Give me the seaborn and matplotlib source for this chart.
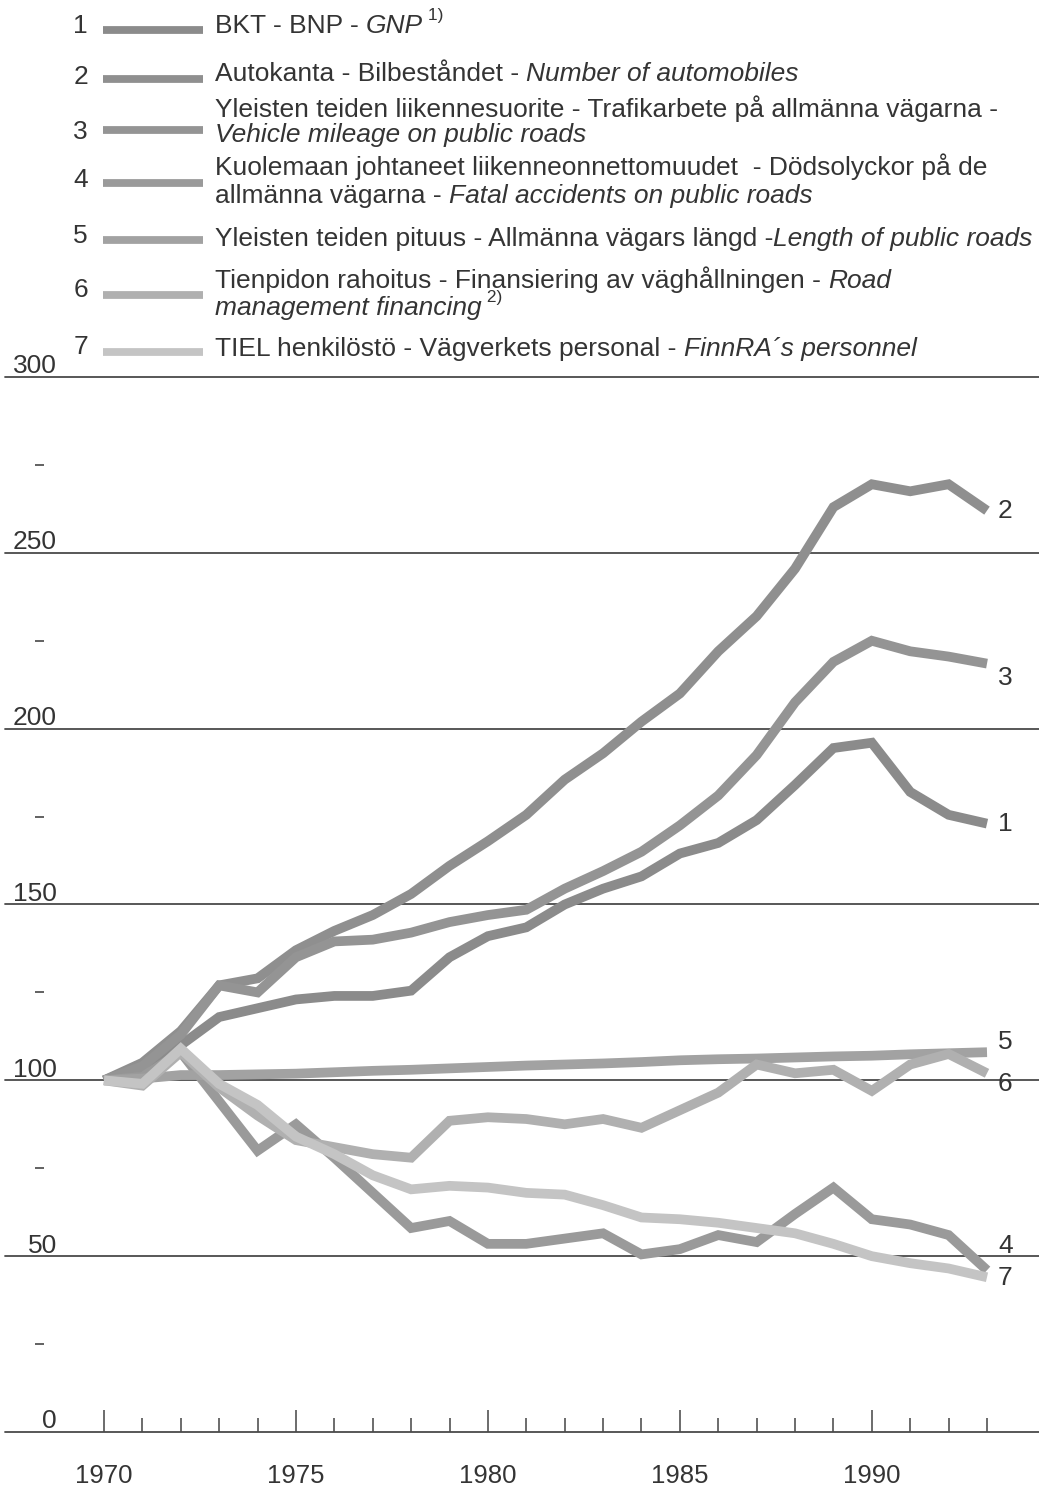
import matplotlib
matplotlib.use("Agg")
import matplotlib.pyplot as plt
from matplotlib.ticker import FixedLocator
import seaborn as sns
import pandas as pd

# ---------------- data ----------------
years = list(range(1970, 1994))
gnp        = [100, 103.5, 110, 118, 120.5, 123, 124, 124, 125.5, 135, 141, 143.5,
              150, 154.5, 158, 164.5, 167.5, 174, 184, 194.5, 196, 182, 175.5, 173]
automobiles = [100, 105, 114, 127, 129, 137, 142.5, 147, 153, 161, 168, 175.5,
               185.5, 193, 202, 210, 222, 232, 245.5, 263, 269.5, 267.5, 269.5, 262]
mileage    = [100, 104, 113, 127, 125, 135, 139.5, 140, 142, 145, 147, 148.5,
              154.5, 159.5, 165, 172.5, 181, 192.5, 207.5, 219, 225, 222, 220.5, 218.5]
accidents  = [100, 101, 108, 94, 80, 87.5, 78, 68, 58, 60, 53.5, 53.5,
              55, 56.5, 50.5, 52, 56, 54, 62, 69.5, 60.5, 59, 56, 46]
road_length = [100, 100.5, 101.5, 101.5, 101.7, 101.9, 102.3, 102.7, 103, 103.4, 103.8, 104.2,
               104.5, 104.8, 105.2, 105.7, 106, 106.2, 106.5, 106.8, 107, 107.4, 107.7, 108]
financing  = [100, 98.5, 108, 98, 90, 83, 81, 79, 78, 88.5, 89.5, 89,
              87.5, 89, 86.5, 91.5, 96.5, 104.5, 102, 103, 97, 104.5, 107.5, 102]
personnel  = [100, 99, 109, 99, 93, 84, 79, 73, 69, 70, 69.5, 68,
              67.5, 64.5, 61, 60.5, 59.5, 58, 56.5, 53.5, 50, 48, 46.5, 44]

series_ids = ["1", "2", "3", "4", "5", "6", "7"]
series_values = [gnp, automobiles, mileage, accidents, road_length, financing, personnel]
colors = ["#8b8b8b", "#8f8f8f", "#949494", "#9a9a9a", "#a2a2a2", "#b0b0b0", "#c4c4c4"]

y_major = [0, 50, 100, 150, 200, 250, 300]
y_minor = [25, 75, 125, 175, 225, 275]
x_major = [1970, 1975, 1980, 1985, 1990]

legend_entries = [
    [[("BKT - BNP - ", "normal"), ("GNP", "italic"), (" 1)", "sup")]],
    [[("Autokanta - Bilbeståndet - ", "normal"), ("Number of automobiles", "italic")]],
    [[("Yleisten teiden liikennesuorite - Trafikarbete på allmänna vägarna -", "normal")],
     [("Vehicle mileage on public roads", "italic")]],
    [[("Kuolemaan johtaneet liikenneonnettomuudet  - Dödsolyckor på de", "normal")],
     [("allmänna vägarna - ", "normal"), ("Fatal accidents on public roads", "italic")]],
    [[("Yleisten teiden pituus - Allmänna vägars längd -", "normal"), ("Length of public roads", "italic")]],
    [[("Tienpidon rahoitus - Finansiering av väghållningen - ", "normal"), ("Road", "italic")],
     [("management financing", "italic"), (" 2)", "sup")]],
    [[("TIEL henkilöstö - Vägverkets personal - ", "normal"), ("FinnRA´s personnel", "italic")]],
]

# ---------------- figure ----------------
sns.set_style("white")
plt.rcParams["font.family"] = ["Liberation Sans", "DejaVu Sans"]
TXT = "#343434"
FS = 19
W, H = 1039, 1487
fig = plt.figure(figsize=(W / 100, H / 100), dpi=100)

def fx(px):
    return px / W

def fy(py):
    return 1 - py / H

ax = fig.add_axes([fx(5), fy(1432), fx(1034), (1432 - 377) / H])

df = pd.DataFrame({
    "year": years * len(series_ids),
    "value": [v for vals in series_values for v in vals],
    "series": [s for s, vals in zip(series_ids, series_values) for _ in vals],
})

# grid lines (drawn first, under the data)
for yv in y_major:
    ax.axhline(yv, color="#4a4a4a", lw=1.3, clip_on=False, zorder=1)

sns.lineplot(data=df, x="year", y="value", hue="series", hue_order=series_ids,
             palette=dict(zip(series_ids, colors)), linewidth=7.0, legend=False,
             estimator=None, ax=ax, zorder=3)
for ln in ax.lines[len(y_major):]:
    ln.set_solid_capstyle("butt")
    ln.set_solid_joinstyle("miter")

px_per_year = (987 - 104) / 23
ax.set_xlim(1970 - 99 / px_per_year, 1993 + 52 / px_per_year)
ax.set_ylim(0, 300)
for s in ax.spines.values():
    s.set_visible(False)
ax.set_xlabel("")
ax.set_ylabel("")

# x ticks pointing up from the zero line
ax.set_xticks(x_major)
ax.set_xticklabels([str(x) for x in x_major])
ax.xaxis.set_minor_locator(FixedLocator([y for y in years if y not in x_major]))
ax.tick_params(axis="x", which="major", direction="in", length=16, width=1.1,
               color="#444444", pad=23, labelsize=FS - 0.5, labelcolor=TXT, bottom=True)
ax.tick_params(axis="x", which="minor", direction="in", length=10, width=1.1,
               color="#444444", bottom=True)
ax.set_yticks([])

# y labels drawn just above grid lines, at the left
ytr = ax.get_yaxis_transform()
for yv in y_major:
    ax.text((57 - 5) / 1034, yv + 1.0, str(yv), transform=ytr, ha="right", va="baseline",
            fontsize=FS, color=TXT, clip_on=False)
ax.hlines(y_minor, (35 - 5) / 1034, (44 - 5) / 1034, transform=ytr, color="#555555", lw=1.3)

# series end labels (offset in pixels, positive = up)
end_offsets = {"1": 0, "2": 0, "3": -14, "4": 24, "5": 10, "6": -11, "7": -1}
for sid, vals in zip(series_ids, series_values):
    ax.annotate(sid, xy=(years[-1], vals[-1]), xytext=(11, end_offsets[sid]),
                textcoords="offset pixels", ha="left", va="center",
                fontsize=FS, color=TXT, annotation_clip=False)

# ---------------- legend (custom) ----------------
row_line_y = [30, 79, 130, 183, 240, 295, 352]
row_num_y = [33, 84, 139, 187, 243, 297, 354]
row_text_y = [[33], [81], [117, 142], [175, 203], [246], [288, 315], [356]]

for i, sid in enumerate(series_ids):
    fig.add_artist(plt.Line2D([fx(103), fx(203)], [fy(row_line_y[i])] * 2,
                              color=colors[i], lw=5.6, solid_capstyle="butt"))
    fig.text(fx(88), fy(row_num_y[i]), sid, ha="right", va="baseline",
             fontsize=FS, color=TXT)
    for line_parts, ty in zip(legend_entries[i], row_text_y[i]):
        prev = None
        for text, style in line_parts:
            if prev is None:
                prev = fig.text(fx(215), fy(ty), text, ha="left", va="baseline",
                                fontsize=FS, color=TXT,
                                fontstyle="italic" if style == "italic" else "normal")
            elif style == "sup":
                prev = ax.annotate(text, xy=(1, 0.62), xycoords=prev, ha="left",
                                   va="bottom", fontsize=12.5, color=TXT,
                                   annotation_clip=False)
            else:
                prev = ax.annotate(text, xy=(1, 0), xycoords=prev, ha="left",
                                   va="bottom", fontsize=FS, color=TXT,
                                   fontstyle="italic" if style == "italic" else "normal",
                                   annotation_clip=False)

fig.savefig("out.png", dpi=100)
